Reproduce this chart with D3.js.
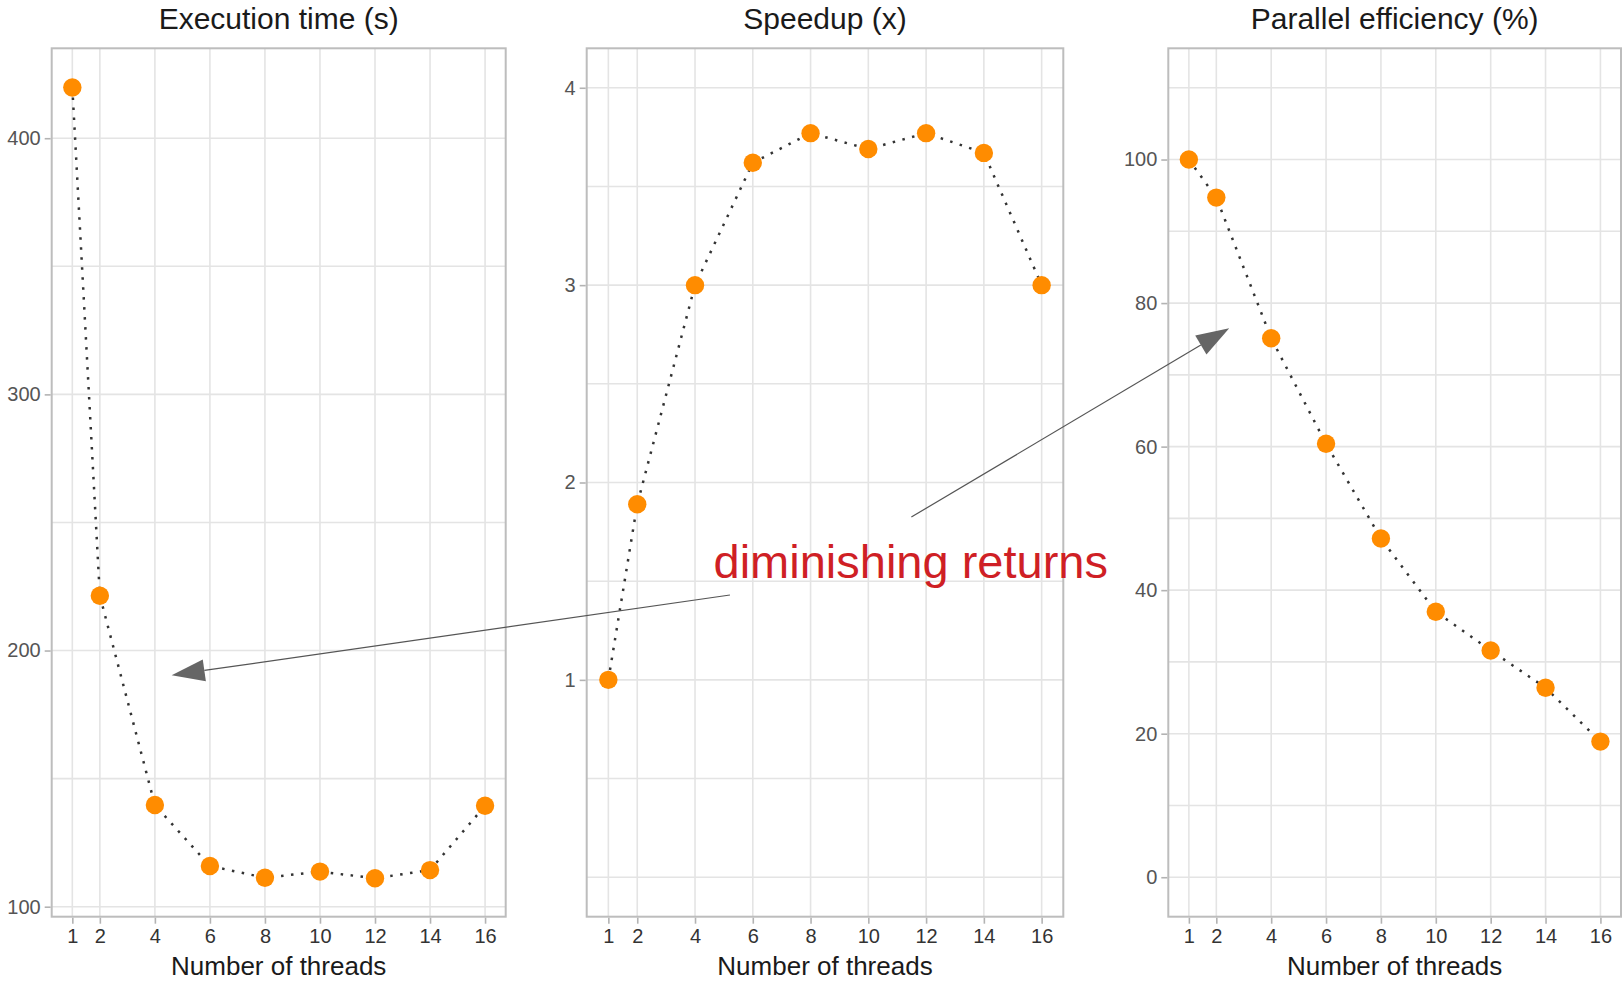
<!DOCTYPE html>
<html lang="en">
<head>
  <meta charset="UTF-8" />
  <title>Thread scaling</title>
  <script src="https://d3js.org/d3.v7.min.js"></script>
  <style>
    body { margin:0; padding:0; background:#fff; }
    svg { display:block; font-family:"Liberation Sans", Arial, sans-serif; }
    .grid line { stroke:#e4e4e4; stroke-width:1.6px; }
    .ytick { fill:#555; font-size:20px; }
    .xtick { fill:#333; font-size:20px; }
    .ptitle { fill:#1a1a1a; font-size:30px; }
    .atitle { fill:#1a1a1a; font-size:26px; }
  </style>
</head>
<body>
  <svg width="1622" height="982"></svg>

  <script>
  // data
  const threads    = [1, 2, 4, 6, 8, 10, 12, 14, 16];
  const execTime   = [419.8, 221.4, 139.7, 115.9, 111.3, 113.7, 111.1, 114.3, 139.4];
  const speedup    = [1.00, 1.89, 3.00, 3.62, 3.77, 3.69, 3.77, 3.67, 3.00];
  const efficiency = [100, 94.7, 75.1, 60.4, 47.2, 37.0, 31.6, 26.4, 18.9];

  const titles     = ["Execution time (s)", "Speedup (x)", "Parallel efficiency (%)"];
  const xLabel     = "Number of threads";
  const xTicks     = [1, 2, 4, 6, 8, 10, 12, 14, 16];
  const yTicks     = [[100, 200, 300, 400], [1, 2, 3, 4], [0, 20, 40, 60, 80, 100]];
  const yMinor     = [[150, 250, 350], [0, 0.5, 1.5, 2.5, 3.5], [10, 30, 50, 70, 90, 110]];
  const yLimits    = [[96.1, 435.1], [-0.2, 4.2], [-5.5, 115.5]];
  const xLimits    = [0.25, 16.75];

  // panel boxes (px)
  const panels = [
    { x0: 51.7,   x1: 505.7, y0: 48.3, y1: 916.7, values: execTime },
    { x0: 586.7,  x1: 1063.3, y0: 48.3, y1: 916.7, values: speedup },
    { x0: 1168.3, x1: 1621,  y0: 48.3, y1: 916.7, values: efficiency }
  ];

  const svg = d3.select("svg");

  panels.forEach((p, i) => {
    p.x = d3.scaleLinear().domain(xLimits).range([p.x0, p.x1]);
    p.y = d3.scaleLinear().domain(yLimits[i]).range([p.y1, p.y0]);
    const g = svg.append("g");

    // grid
    const grid = g.append("g").attr("class", "grid");
    grid.selectAll(".gx").data(xTicks).enter().append("line")
      .attr("x1", d => p.x(d)).attr("x2", d => p.x(d))
      .attr("y1", p.y0).attr("y2", p.y1);
    grid.selectAll(".gy").data(yTicks[i].concat(yMinor[i])).enter().append("line")
      .attr("x1", p.x0).attr("x2", p.x1)
      .attr("y1", d => p.y(d)).attr("y2", d => p.y(d));

    // panel border
    g.append("rect")
      .attr("x", p.x0).attr("y", p.y0)
      .attr("width", p.x1 - p.x0).attr("height", p.y1 - p.y0)
      .attr("fill", "none").attr("stroke", "#bdbdbd").attr("stroke-width", 2);

    // axes
    const yAxis = d3.axisLeft(p.y).tickValues(yTicks[i]).tickFormat(d3.format("d"))
      .tickSize(6).tickPadding(4);
    const ya = g.append("g").attr("transform", `translate(${p.x0 - 1},0)`).call(yAxis);
    ya.select(".domain").remove();
    ya.selectAll("line").attr("stroke", "#b3b3b3").attr("stroke-width", 1.6);
    ya.selectAll("text").attr("class", "ytick").attr("font-size", null).attr("font-family", null);

    const xAxis = d3.axisBottom(p.x).tickValues(xTicks).tickFormat(d3.format("d"))
      .tickSize(6).tickPadding(5);
    const xa = g.append("g").attr("transform", `translate(0,${p.y1 + 1})`).call(xAxis);
    xa.select(".domain").remove();
    xa.selectAll("line").attr("stroke", "#b3b3b3").attr("stroke-width", 1.6);
    xa.selectAll("text").attr("class", "xtick").attr("font-size", null).attr("font-family", null);

    // titles
    g.append("text").attr("class", "ptitle")
      .attr("x", (p.x0 + p.x1) / 2).attr("y", 28.5)
      .attr("text-anchor", "middle").text(titles[i]);
    g.append("text").attr("class", "atitle")
      .attr("x", (p.x0 + p.x1) / 2).attr("y", 975)
      .attr("text-anchor", "middle").text(xLabel);

    // dotted line + points
    const pts = threads.map((t, k) => [t, p.values[k]]);
    g.append("path").datum(pts)
      .attr("d", d3.line().x(d => p.x(d[0])).y(d => p.y(d[1])))
      .attr("fill", "none").attr("stroke", "#333")
      .attr("stroke-width", 2.5).attr("stroke-dasharray", "2.5 7.5");
    g.selectAll(".pt").data(pts).enter().append("circle")
      .attr("cx", d => p.x(d[0])).attr("cy", d => p.y(d[1]))
      .attr("r", 9.2).attr("fill", "#ff8c00");
  });

  // annotation: text + two arrows (positions in panel data coords)
  const note = { panel: 1, x: 4.64, y: 1.516, text: "diminishing returns" };
  const arrows = [
    { from: [1, 5.21, 1.43], to: [0, 4.61, 190.4] },
    { from: [1, 11.49, 1.825], to: [2, 2.47, 76.5] }
  ];

  const ann = svg.append("g");
  const pos = ([pi, x, y]) => [panels[pi].x(x), panels[pi].y(y)];
  const headLen = 33, headHalf = 11;

  arrows.forEach(a => {
    const [sx, sy] = pos(a.from), [tx, ty] = pos(a.to);
    const len = Math.hypot(tx - sx, ty - sy);
    const ux = (tx - sx) / len, uy = (ty - sy) / len;
    const bx = tx - ux * headLen, by = ty - uy * headLen;
    ann.append("line")
      .attr("x1", sx).attr("y1", sy).attr("x2", bx).attr("y2", by)
      .attr("stroke", "#555").attr("stroke-width", 1.2);
    ann.append("path")
      .attr("d", `M${tx},${ty}L${bx - uy * headHalf},${by + ux * headHalf}L${bx + uy * headHalf},${by - ux * headHalf}Z`)
      .attr("fill", "#666");
  });

  const [nx, ny] = pos([note.panel, note.x, note.y]);
  ann.append("text")
    .attr("x", nx).attr("y", ny)
    .attr("fill", "#cf1f25").attr("font-size", 47)
    .text(note.text);
  </script>
</body>
</html>
